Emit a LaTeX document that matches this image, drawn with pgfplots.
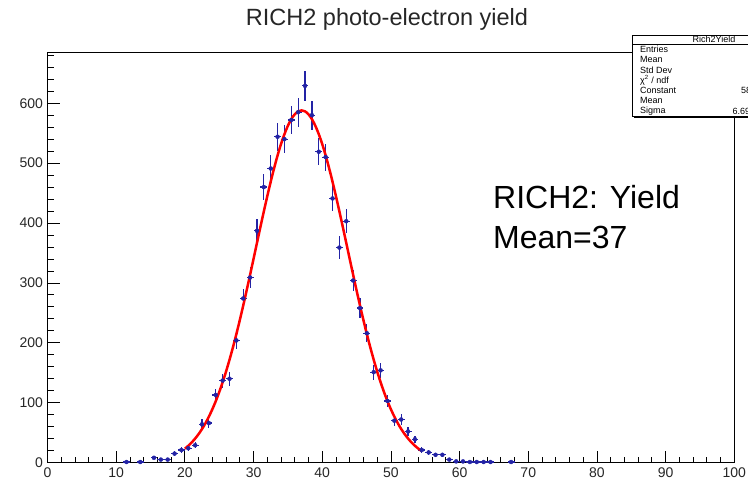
\documentclass[border=0pt]{standalone}
\usepackage{pgfplots}
\pgfplotsset{compat=1.18}
\usepackage{pgfplotstable}
\usepackage{fontspec}
\setmainfont{Liberation Sans}

\definecolor{binblue}{RGB}{35,35,165}
\definecolor{fitred}{RGB}{255,0,0}

% photo-electron yield histogram: bin centre, entries, statistical error
\pgfplotstableread{
x    y    ey
11.5 1    1.0
13.5 1    1.0
15.5 8    2.8
16.5 5    2.2
17.5 5    2.2
18.5 15   3.9
19.5 21   4.6
20.5 24   4.9
21.5 29   5.4
22.5 64   8.0
23.5 66   8.1
24.5 113  10.6
25.5 137  11.7
26.5 140  11.8
27.5 204  14.3
28.5 274  16.6
29.5 309  17.6
30.5 387  19.7
31.5 460  21.4
32.5 491  22.2
33.5 544  23.3
34.5 540  23.2
35.5 572  23.9
36.5 585  24.2
37.5 629  25.1
38.5 580  24.1
39.5 519  22.8
40.5 510  22.6
41.5 441  21.0
42.5 359  18.9
43.5 403  20.1
44.5 304  17.4
45.5 258  16.1
46.5 216  14.7
47.5 151  12.3
48.5 154  12.4
49.5 103  10.1
50.5 70   8.4
51.5 72   8.5
52.5 52   7.2
53.5 39   6.2
54.5 21   4.6
55.5 17   4.1
56.5 13   3.6
57.5 13   3.6
58.5 5    2.2
59.5 2    1.4
60.5 2    1.4
61.5 1    1.0
62.5 1    1.0
63.5 1    1.0
64.5 1    1.0
67.5 1    1.0
}\yielddata

% gaussian fit curve (constant 588, mean 37.0, sigma 6.69)
\pgfplotstableread{
x    f
20.0 23.3
20.5 28.1
21.0 33.7
21.5 40.2
22.0 47.6
22.5 56.1
23.0 65.8
23.5 76.8
24.0 89.0
24.5 102.6
25.0 117.7
25.5 134.2
26.0 152.2
26.5 171.6
27.0 192.4
27.5 214.5
28.0 237.9
28.5 262.3
29.0 287.6
29.5 313.7
30.0 340.1
30.5 366.8
31.0 393.3
31.5 419.4
32.0 444.7
32.5 468.9
33.0 491.7
33.5 512.8
34.0 531.8
34.5 548.3
35.0 562.3
35.5 573.4
36.0 581.5
36.5 586.4
37.0 588.0
37.5 586.4
38.0 581.5
38.5 573.4
39.0 562.3
39.5 548.3
40.0 531.8
40.5 512.8
41.0 491.7
41.5 468.9
42.0 444.7
42.5 419.4
43.0 393.3
43.5 366.8
44.0 340.1
44.5 313.7
45.0 287.6
45.5 262.3
46.0 237.9
46.5 214.5
47.0 192.4
47.5 171.6
48.0 152.2
48.5 134.2
49.0 117.7
49.5 102.6
50.0 89.0
50.5 76.8
51.0 65.8
51.5 56.1
52.0 47.6
52.5 40.2
53.0 33.7
53.5 28.1
54.0 23.3
54.5 19.2
}\gausfit

\begin{document}
\begin{tikzpicture}[x=1pt,y=1pt]
\path[use as bounding box] (0,0) rectangle (748,483);
\begin{axis}[
  at={(47.5pt,20.4pt)}, anchor=south west,
  scale only axis, width=686.8pt, height=410.3pt,
  xmin=0, xmax=100, ymin=0, ymax=685,
  xtick={0,10,...,100}, minor xtick={2,4,...,98},
  ytick={0,100,...,600}, minor ytick={20,40,...,680},
  xtick pos=bottom, ytick pos=left, tick align=inside,
  major tick length=12pt, minor tick length=6pt,
  tick style={black, line width=0.8pt},
  axis line style={black, line width=0.9pt},
  /pgf/number format/assume math mode=true,
  tick label style={font=\fontsize{14}{14}\selectfont, text=black!85},
  xticklabel style={yshift=-2pt},
  yticklabel style={xshift=-1pt},
  clip=true,
]
\addplot[only marks, mark=none, binblue,
  error bars/.cd, x dir=both, x fixed=0.5, y dir=both, y explicit,
  error mark=none, error bar style={line width=1.2pt, binblue}]
  table[x=x, y=y, y error=ey] {\yielddata};
\addplot[fitred, line width=2.5pt, smooth] table[x=x, y=f] {\gausfit};
\end{axis}

% title
\node[font=\fontsize{23.5}{23.5}\selectfont, anchor=base, text=black!85] at (387,457) {RICH2 photo-electron yield};

% annotation
\node[font=\fontsize{32}{32}\selectfont, anchor=base west, inner sep=0pt] at (493,274) {RICH2: Yield};
\node[font=\fontsize{32}{32}\selectfont, anchor=base west, inner sep=0pt] at (493,234) {Mean=37};

% statistics box
\fill[black] (634,365) rectangle (770,446);
\filldraw[fill=white, draw=black, line width=0.8pt] (632,367) rectangle (768,448);
\draw[line width=0.6pt] (632,439) -- (768,439);
\begin{scope}[every node/.style={font=\fontsize{9}{9}\selectfont, inner sep=0pt}]
\node at (714,443.5) {Rich2Yield};
\node[anchor=west] at (640,433.8) {Entries};
\node[anchor=west] at (640,423.5) {Mean};
\node[anchor=west] at (640,413.2) {Std Dev};
\node[anchor=west] at (640,402.9) {χ\textsuperscript{2} / ndf};
\node[anchor=west] at (640,392.6) {Constant};
\node[anchor=west] at (640,382.3) {Mean};
\node[anchor=west] at (640,372.0) {Sigma};
\node[anchor=west] at (741,392.6) {588.3 ± 7.1};
\node[anchor=west] at (732.5,372.0) {6.693 ± 0.050};
\end{scope}
\end{tikzpicture}
\end{document}
